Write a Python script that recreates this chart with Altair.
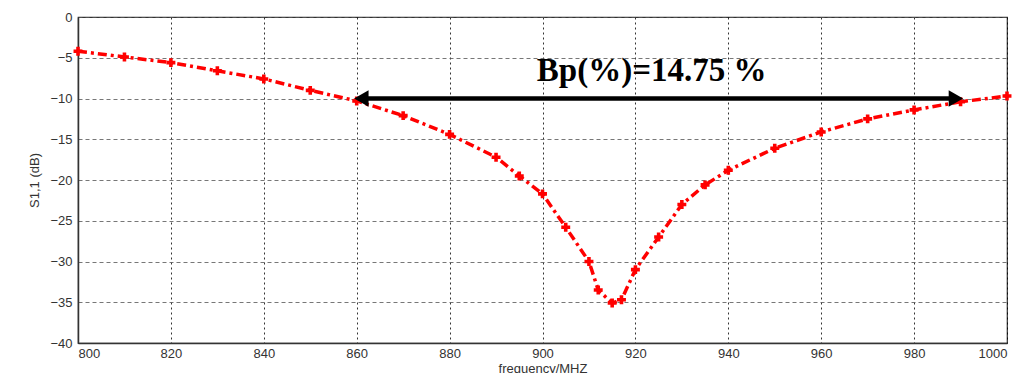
import altair as alt
import pandas as pd

freq = [800, 810, 820, 830, 840, 850, 860, 870, 880, 890, 895, 900, 905, 910, 912, 915, 917, 920, 925, 930, 935, 940, 950, 960, 970, 980, 990, 1000]
s11 = [-4.2, -4.9, -5.6, -6.6, -7.6, -9.0, -10.3, -12.1, -14.4, -17.2, -19.5, -21.7, -25.8, -30.0, -33.5, -35.1, -34.7, -31.0, -27.0, -23.0, -20.6, -18.8, -16.1, -14.1, -12.5, -11.4, -10.4, -9.7]

arrow_x = [861, 989]
arrow_y = [-10.0, -10.0]
arrow_shape = ["triangle-left", "triangle-right"]
label_text = ["Bp(%)=14.75 %"]
label_x = [923.5]
label_y = [-6.6]

x_ticks = list(range(800, 1001, 20))
y_ticks = list(range(-40, 1, 5))

df = pd.DataFrame({"f": freq, "s": s11})
arr = pd.DataFrame({"f": arrow_x, "s": arrow_y, "shape": arrow_shape})
lab = pd.DataFrame({"f": label_x, "s": label_y, "t": label_text})

xs = alt.Scale(domain=[800, 1000], nice=False, zero=False)
ys = alt.Scale(domain=[-40, 0], nice=False, zero=False)

xax = alt.Axis(values=x_ticks, format="d", title="frequency/MHZ", grid=True, gridDash=[2, 3], gridColor="#000000",
               gridOpacity=0.8, ticks=False, labelPadding=4, titlePadding=2)
yax = alt.Axis(values=y_ticks, format="d", title="S1,1 (dB)", grid=True, gridDash=[4, 3], gridColor="#555555",
               gridOpacity=0.8, ticks=False, labelPadding=6, titlePadding=8)

line = alt.Chart(df).mark_line(color="#ff0000", strokeWidth=3.5, strokeDash=[9, 4, 3, 4]).encode(
    x=alt.X("f:Q", scale=xs, axis=xax),
    y=alt.Y("s:Q", scale=ys, axis=yax),
)
pts = alt.Chart(df).mark_point(shape="cross", filled=True, color="#ff0000", size=80, opacity=1).encode(
    x=alt.X("f:Q", scale=xs), y=alt.Y("s:Q", scale=ys)
)
shaft = alt.Chart(arr).mark_line(color="#000000", strokeWidth=4.5).encode(
    x=alt.X("f:Q", scale=xs), y=alt.Y("s:Q", scale=ys)
)
heads = alt.Chart(arr).mark_point(filled=True, color="#000000", size=280, opacity=1).encode(
    x=alt.X("f:Q", scale=xs), y=alt.Y("s:Q", scale=ys),
    shape=alt.Shape("shape:N", scale=None, legend=None)
)
text = alt.Chart(lab).mark_text(font="Liberation Serif", fontWeight="bold", fontSize=33, color="#000000").encode(
    x=alt.X("f:Q", scale=xs), y=alt.Y("s:Q", scale=ys), text="t:N"
)

chart = alt.layer(line, pts, shaft, heads, text).properties(
    width=929, height=326,
    autosize=alt.AutoSizeParams(type="none"),
    padding={"left": 70, "top": 9, "right": 20, "bottom": 30},
).configure_view(stroke="#333333", strokeWidth=1.2).configure_axis(
    labelFont="Liberation Sans", titleFont="Liberation Sans", labelFontSize=13, titleFontSize=13,
    labelColor="#333333", titleColor="#333333", titleFontWeight="normal",
    domainColor="#333333", domainWidth=1.5,
)

chart.save("out.html", embed_options={"renderer": "svg", "actions": False})
